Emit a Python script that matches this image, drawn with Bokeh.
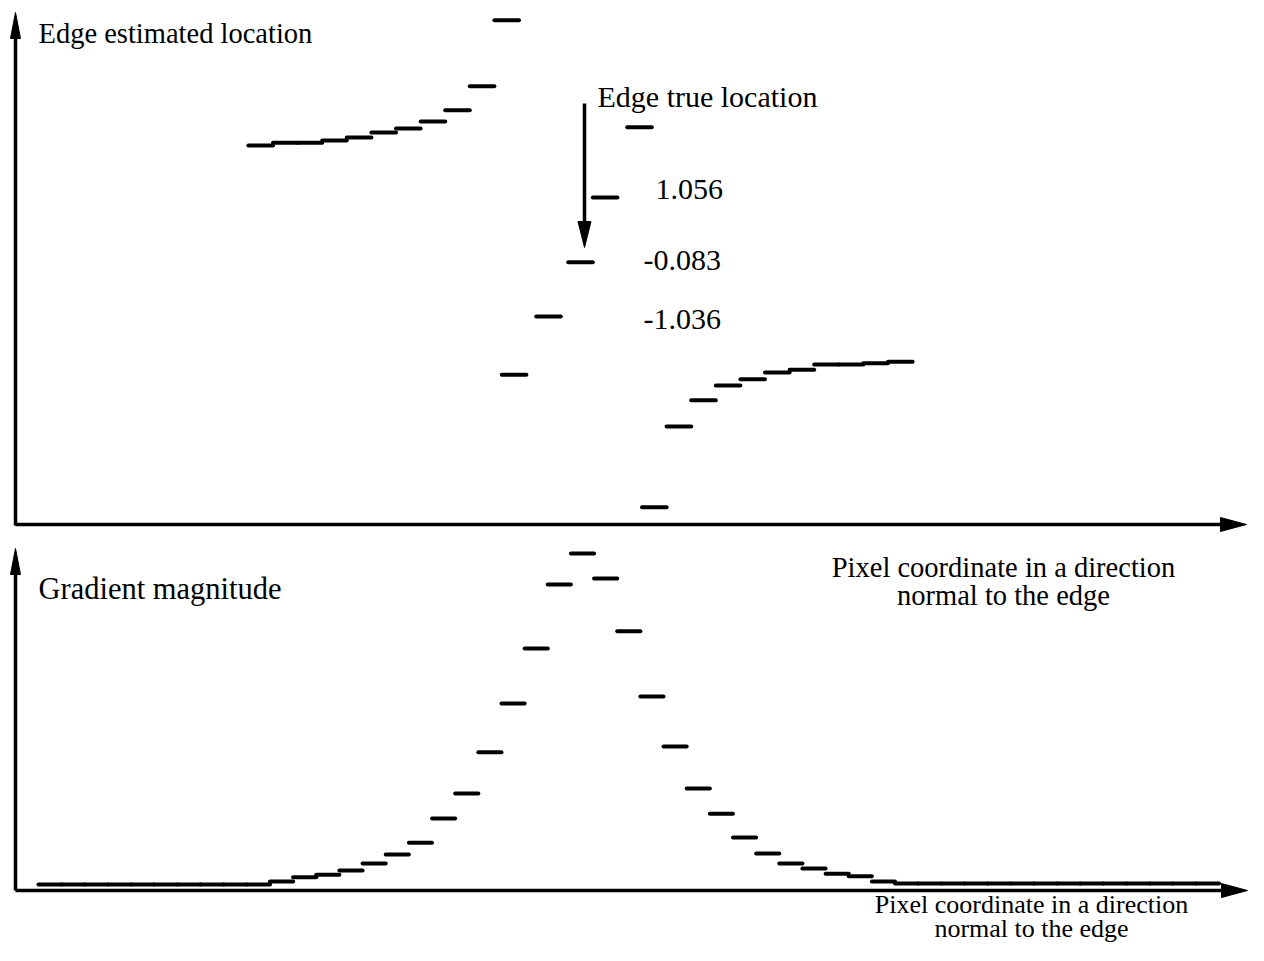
from bokeh.plotting import figure
from bokeh.models import Range1d
from bokeh.embed import file_html
from bokeh.resources import INLINE
from bokeh.core.properties import value

# ---------------- data ----------------
# Upper panel: estimated edge location computed at each pixel
top_pixel = [-13, -12, -11, -10, -9, -8, -7, -6, -5, -4, -3,
             -2.7, -1.3, 0.0, 1.0, 2.4,
             3, 4, 5, 6, 7, 8, 9, 10, 11, 12, 13]
top_location = [1.97, 2.02, 2.02, 2.06, 2.11, 2.20, 2.27, 2.39, 2.59, 3.01, 4.17,
                -2.06, -1.036, -0.083, 1.056, 2.29,
                -4.39, -2.97, -2.51, -2.25, -2.14, -2.02, -1.97, -1.88, -1.88, -1.86, -1.83]
value_labels = ["1.056", "-0.083", "-1.036"]

# Lower panel: gradient magnitude per pixel (peak = 100)
grad_pixel = list(range(-23, 28))
grad_mag = ([1.8] * 10 +
            [2.7, 3.9, 4.7, 5.9, 8.0, 10.7, 14.2, 21.4, 28.8, 41.0, 55.5, 71.8, 90.8,
             100.0,
             92.6, 76.9, 57.6, 42.7, 30.3, 22.8, 15.7, 11.0, 8.0, 6.5, 5.0, 4.2, 2.7] +
            [2.1] * 14)

label_top_y = "Edge estimated location"
label_true = "Edge true location"
label_bottom_y = "Gradient magnitude"
label_x1 = "Pixel coordinate in a direction"
label_x2 = "normal to the edge"

# ---------------- geometry ----------------
W, H = 1248, 945


def xr(px_a, v_a, px_b, v_b):
    s = (v_b - v_a) / (px_b - px_a)
    return Range1d(start=v_a - px_a * s, end=v_a + (W - px_a) * s)


def yr(py_a, v_a, py_b, v_b):
    s = (v_b - v_a) / (py_b - py_a)
    return Range1d(start=v_a + (H - py_a) * s, end=v_a - py_a * s)


p = figure(width=W, height=H, output_backend="svg", toolbar_location=None,
           x_axis_type=None, y_axis_type=None, min_border=0,
           x_range=xr(582, 0, 605.15, 1), y_range=yr(890, 0, 553, 100))
p.outline_line_color = None
p.xgrid.visible = False
p.ygrid.visible = False
p.background_fill_color = "white"
p.border_fill_color = "white"

p.extra_x_ranges = {"top": xr(580, 0, 604.6, 1), "px": Range1d(0, W)}
p.extra_y_ranges = {"top": yr(197, 1.056, 316, -1.036), "px": Range1d(H, 0)}

HALF = 0.5
LW = 4

# upper panel segments
p.segment(x0=[k - HALF for k in top_pixel], x1=[k + HALF for k in top_pixel],
          y0=top_location, y1=top_location, line_color="black", line_width=LW,
          line_cap="round", x_range_name="top", y_range_name="top")

# lower panel segments
p.segment(x0=[k - HALF for k in grad_pixel], x1=[k + HALF for k in grad_pixel],
          y0=grad_mag, y1=grad_mag, line_color="black", line_width=LW,
          line_cap="round")

# ---------------- axes drawn as arrows (pixel space) ----------------
ax = dict(x_range_name="px", y_range_name="px")
shafts_x0 = [15, 15, 15, 15, 584]
shafts_y0 = [525, 524, 890, 890, 103]
shafts_x1 = [15, 1228, 15, 1228, 584]
shafts_y1 = [30, 524, 566, 890, 228]
p.segment(x0=shafts_x0, y0=shafts_y0, x1=shafts_x1, y1=shafts_y1,
          line_color="black", line_width=3.5, **ax)

heads_x = [[15, 10, 20], [1246, 1220, 1220], [15, 10, 20], [1247, 1221, 1221],
           [584, 577.5, 590.5]]
heads_y = [[12, 38, 38], [524, 517, 531], [548, 574, 574], [890, 883, 897],
           [247, 221, 221]]
p.patches(xs=heads_x, ys=heads_y, fill_color="black", line_color="black",
          line_width=1, **ax)

# ---------------- texts ----------------
font = value("Liberation Serif")
common = dict(text_font=font, text_baseline="middle", text_color="black", **ax)

p.text(x=[38], y=[33], text=[label_top_y], text_font_size="28.5px",
       text_align="left", **common)
p.text(x=[597], y=[96], text=[label_true], text_font_size="30px",
       text_align="left", **common)
p.text(x=[38], y=[588], text=[label_bottom_y], text_font_size="30.5px",
       text_align="left", **common)
p.text(x=[655, 643, 643], y=[189, 260, 319], text=value_labels,
       text_font_size="30px", text_align="left", **common)
p.text(x=[1003, 1003], y=[567, 595], text=[label_x1, label_x2],
       text_font_size="28.5px", text_align="center", **common)
p.text(x=[1031, 1031], y=[904, 928], text=[label_x1, label_x2],
       text_font_size="26px", text_align="center", **common)

open("out.html", "w").write(file_html(p, INLINE))
